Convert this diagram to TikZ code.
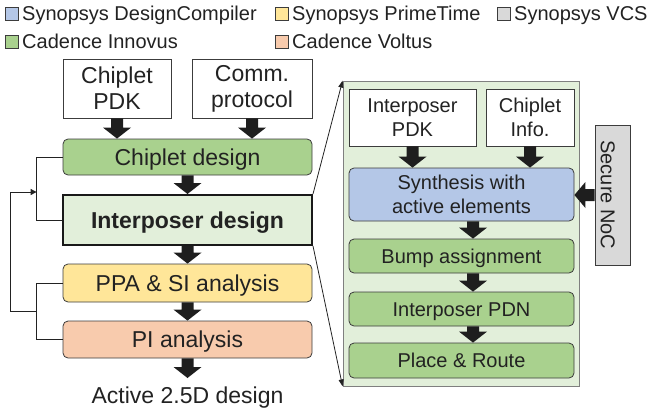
\documentclass[tikz,border=0pt]{standalone}
\usepackage{fontspec}
\setmainfont{Liberation Sans}
\usetikzlibrary{arrows.meta,calc}

\definecolor{txt}{HTML}{222222}
\definecolor{edge}{HTML}{3C3C3C}
\definecolor{panelgray}{HTML}{7F7F7F}
\definecolor{synblue}{HTML}{B4C7E7}
\definecolor{ptyellow}{HTML}{FFE699}
\definecolor{vcsgray}{HTML}{D9D9D9}
\definecolor{innogreen}{HTML}{A9D18E}
\definecolor{voltorange}{HTML}{F8CBAD}
\definecolor{lightgreen}{HTML}{E2EFDA}
\definecolor{arrowfill}{HTML}{1E1E1E}

\tikzset{
  box/.style={draw=edge, line width=0.8pt, inner sep=0pt, align=center, text=txt},
  bigtxt/.style={font=\fontsize{23}{26}\selectfont},
  smalltxt/.style={font=\fontsize{20}{24}\selectfont},
  bigone/.style={text height=21pt, text depth=4.5pt},
  smallone/.style={text height=18.8pt, text depth=4.5pt},
  plainbox/.style={box, fill=white},
  stagebox/.style={box, rounded corners=5pt},
  swatch/.style={draw=edge, line width=0.6pt, minimum size=13pt, inner sep=0pt},
  legtext/.style={anchor=base west, inner sep=0pt, text=txt, font=\fontsize{20}{24}\selectfont},
  % thick block arrow pointing down, drawn at the x of its start point
  downarrow/.style={fill=arrowfill, draw=none, to path={
    let \p1=(\tikztostart), \p2=(\tikztotarget) in
    (\x1-6pt,\y1) -- (\x1-6pt,\y2+11pt) -- (\x1-14pt,\y2+11pt) -- (\x1,\y2)
    -- (\x1+14pt,\y2+11pt) -- (\x1+6pt,\y2+11pt) -- (\x1+6pt,\y1) -- cycle}},
  % thick block arrow pointing left, drawn at the y of its start point
  leftarrow/.style={fill=arrowfill, draw=none, to path={
    let \p1=(\tikztostart), \p2=(\tikztotarget) in
    (\x1,\y1+6pt) -- (\x2+11pt,\y1+6pt) -- (\x2+11pt,\y1+13pt) -- (\x2,\y1)
    -- (\x2+11pt,\y1-13pt) -- (\x2+11pt,\y1-6pt) -- (\x1,\y1-6pt) -- cycle}},
  zoomline/.style={draw=txt, line width=0.8pt, -{Triangle[length=7pt,width=5pt]}},
  fbline/.style={draw=txt, line width=0.9pt},
}

\begin{document}
\begin{tikzpicture}[x=1pt,y=-1pt]
\useasboundingbox (0,0) rectangle (652,415);

% legend
\node[swatch, fill=synblue] (lgsyn) at (11.5,13.5) {};
\node[legtext] (lgsynt) at (22,20.5) {Synopsys DesignCompiler};
\node[swatch, fill=ptyellow] (lgpt) at (281.5,13.5) {};
\node[legtext] (lgptt) at (292,20.5) {Synopsys PrimeTime};
\node[swatch, fill=vcsgray] (lgvcs) at (503.5,13.5) {};
\node[legtext] (lgvcst) at (514,20.5) {Synopsys VCS};
\node[swatch, fill=innogreen] (lginn) at (11.5,42) {};
\node[legtext] (lginnt) at (22,48.8) {Cadence Innovus};
\node[swatch, fill=voltorange] (lgvol) at (281.5,42) {};
\node[legtext] (lgvolt) at (292,48.8) {Cadence Voltus};

% main flow
\node[plainbox, bigtxt, minimum width=108pt, minimum height=59pt] (pdk) at (117,88.5) {Chiplet\\PDK};
\node[plainbox, bigtxt, minimum width=120pt, minimum height=59pt] (comm) at (252,88.5) {Comm.\\protocol};
\node[stagebox, bigtxt, bigone, fill=innogreen, minimum width=249pt, minimum height=36pt] (chip) at (187.5,157) {Chiplet design};
\node[box, bigtxt, bigone, fill=lightgreen, draw=black!90, line width=2pt, minimum width=249pt, minimum height=50pt] (inter) at (187.5,220) {\bfseries Interposer design};
\node[stagebox, bigtxt, bigone, fill=ptyellow, minimum width=249pt, minimum height=38pt] (ppa) at (187.5,283) {PPA \& SI analysis};
\node[stagebox, bigtxt, bigone, fill=voltorange, minimum width=249pt, minimum height=37pt] (pia) at (187.5,339.5) {PI analysis};
\node[bigtxt, text=txt, inner xsep=0pt, inner ysep=9pt, anchor=north] (result) at (187.5,378) {Active 2.5D design};

% detail panel of the interposer design step
\node[draw=panelgray, fill=lightgreen, line width=0.8pt, minimum width=236pt, minimum height=305pt, inner sep=0pt] (panel) at (461,233.5) {};
\node[plainbox, smalltxt, minimum width=127pt, minimum height=57pt] (ipdk) at (412.5,117.5) {Interposer\\PDK};
\node[plainbox, smalltxt, minimum width=88pt, minimum height=57pt] (cinfo) at (530,117.5) {Chiplet\\Info.};
\node[stagebox, smalltxt, fill=synblue, minimum width=225pt, minimum height=53pt] (synth) at (461.5,194.5) {Synthesis with\\active elements};
\node[stagebox, smalltxt, smallone, fill=innogreen, minimum width=225pt, minimum height=34pt] (bump) at (461.5,256) {Bump assignment};
\node[stagebox, smalltxt, smallone, fill=innogreen, minimum width=225pt, minimum height=34pt] (pdn) at (461.5,309) {Interposer PDN};
\node[stagebox, smalltxt, smallone, fill=innogreen, minimum width=225pt, minimum height=35pt] (pnr) at (461.5,360.5) {Place \& Route};
\node[box, smalltxt, fill=vcsgray, draw=edge, rotate=-90, text height=23.3pt, text depth=0pt, minimum width=140pt, minimum height=35pt] (noc) at (612.5,195) {Secure NoC};

% block arrows
\draw[downarrow] (pdk.south) to (chip.north);
\draw[downarrow] (comm.south) to (chip.north);
\draw[downarrow] (chip.south) to (inter.north);
\draw[downarrow] (inter.south) to (ppa.north);
\draw[downarrow] (ppa.south) to (pia.north);
\draw[downarrow] (pia.south) to (result.north);
\draw[downarrow] (ipdk.south) to (synth.north);
\draw[downarrow] (cinfo.south) to (synth.north);
\draw[downarrow] ([xshift=11.5pt]synth.south) to (bump.north);
\draw[downarrow] ([xshift=11.5pt]bump.south) to (pdn.north);
\draw[downarrow] ([xshift=11.5pt]pdn.south) to (pnr.north);
\draw[leftarrow] (noc.south) to (synth.east);

% zoom-out lines to the detail panel
\draw[zoomline] (inter.north east) -- (panel.north west);
\draw[zoomline] (inter.south east) -- (panel.south west);

% iteration loops
\coordinate (lowmid) at ($(ppa.west)!0.5!(pia.west) + (-26,0)$);
\coordinate (upjoin) at ($(chip.west) + (-26,35)$);
\draw[fbline] (chip.west) -- ++(-26,0) |- (inter.west);
\draw[fbline] (ppa.west) -- ++(-26,0) |- (pia.west);
\draw[fbline, -{Triangle[length=6pt,width=6pt]}] (lowmid) -- ++(-26,0) |- (upjoin);
\end{tikzpicture}
\end{document}
